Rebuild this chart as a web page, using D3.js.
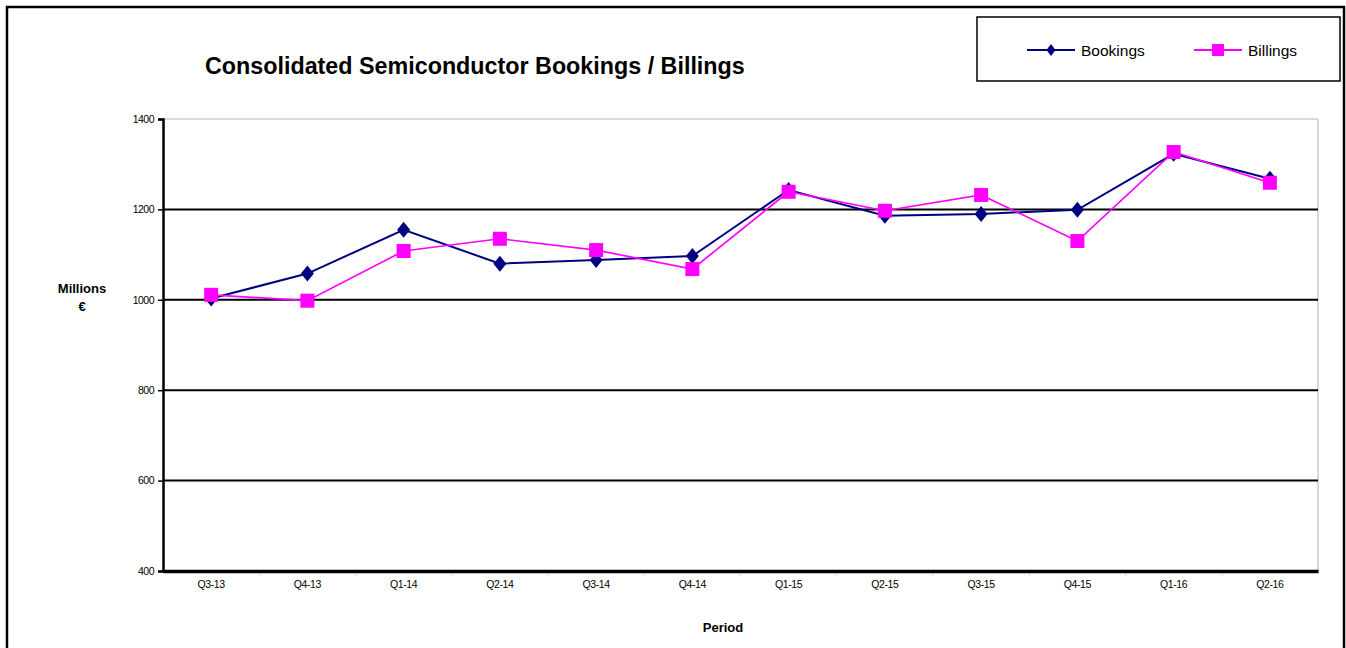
<!DOCTYPE html>
<html>
<head>
<meta charset="utf-8">
<script src="https://cdn.jsdelivr.net/npm/d3@7"></script>
<style>
  body { margin: 0; background: #fff; }
  text { font-family: "Liberation Sans", Arial, sans-serif; }
</style>
</head>
<body>
<svg width="1346" height="648"></svg>
<script>
const periods = ["Q3-13", "Q4-13", "Q1-14", "Q2-14", "Q3-14", "Q4-14",
                 "Q1-15", "Q2-15", "Q3-15", "Q4-15", "Q1-16", "Q2-16"];
const bookings = [1003, 1058, 1155, 1080, 1088, 1097, 1243, 1186, 1190, 1199, 1323, 1268];
const billings = [1011, 998, 1108, 1135, 1110, 1068, 1239, 1197, 1232, 1130, 1327, 1259];
const yTicks = [400, 600, 800, 1000, 1200, 1400];

const svg = d3.select("svg");

// Outer frame
svg.append("rect")
    .attr("x", 7).attr("y", 7)
    .attr("width", 1337).attr("height", 660)
    .attr("fill", "none").attr("stroke", "#000").attr("stroke-width", 2.5);

const plotLeft = 163, plotRight = 1318, plotTop = 119, plotBottom = 571;

const x = d3.scaleBand().domain(periods).range([plotLeft, plotRight]);
const y = d3.scaleLinear().domain([400, 1400]).range([plotBottom, plotTop]);

// Plot area edges (light gray top/right)
svg.append("line")
    .attr("x1", plotLeft).attr("x2", plotRight).attr("y1", y(1400)).attr("y2", y(1400))
    .attr("stroke", "#d9d9d9").attr("stroke-width", 2);
svg.append("line")
    .attr("x1", plotRight).attr("x2", plotRight).attr("y1", plotTop).attr("y2", plotBottom)
    .attr("stroke", "#d9d9d9").attr("stroke-width", 2);

// Gridlines
svg.selectAll(".grid")
    .data(yTicks.filter(d => d > 400 && d < 1400))
    .enter().append("line")
    .attr("x1", plotLeft).attr("x2", plotRight)
    .attr("y1", d => y(d)).attr("y2", d => y(d))
    .attr("stroke", "#000").attr("stroke-width", 2);

// Y axis
const yAxis = svg.append("g")
    .attr("transform", `translate(${plotLeft},0)`)
    .call(d3.axisLeft(y).tickValues(yTicks).tickFormat(d3.format("d"))
        .tickSize(5).tickPadding(4));
yAxis.select(".domain").attr("stroke-width", 2.5);
yAxis.selectAll(".tick line").attr("stroke-width", 1.5);
yAxis.selectAll("text")
    .style("font-family", "Liberation Sans, Arial, sans-serif")
    .style("font-size", "10.5px").attr("fill", "#000")
    .attr("letter-spacing", "-0.5");

// X axis
const xAxis = svg.append("g")
    .attr("transform", `translate(0,${plotBottom})`)
    .call(d3.axisBottom(x).tickSize(0).tickPadding(10));
xAxis.select(".domain").attr("stroke-width", 3.5);
xAxis.selectAll("text")
    .style("font-family", "Liberation Sans, Arial, sans-serif")
    .style("font-size", "10.5px").attr("fill", "#000")
    .attr("letter-spacing", "-0.4");

// small gray ticks at category boundaries
svg.selectAll(".xb")
    .data(periods.slice(1))
    .enter().append("line")
    .attr("x1", d => x(d)).attr("x2", d => x(d))
    .attr("y1", plotBottom + 2).attr("y2", plotBottom + 4)
    .attr("stroke", "#bbb").attr("stroke-width", 1);

const line = d3.line()
    .x((d, i) => x(periods[i]) + x.bandwidth() / 2)
    .y(d => y(d));

// Bookings
svg.append("path").datum(bookings)
    .attr("d", line).attr("fill", "none")
    .attr("stroke", "#000080").attr("stroke-width", 2);
svg.selectAll(".bk")
    .data(bookings)
    .enter().append("path")
    .attr("transform", (d, i) => `translate(${x(periods[i]) + x.bandwidth() / 2},${y(d)})`)
    .attr("d", "M0,-8L6.5,0L0,8L-6.5,0Z")
    .attr("fill", "#000080");

// Billings
svg.append("path").datum(billings)
    .attr("d", line).attr("fill", "none")
    .attr("stroke", "#ff00ff").attr("stroke-width", 1.7);
svg.selectAll(".bl")
    .data(billings)
    .enter().append("rect")
    .attr("x", (d, i) => x(periods[i]) + x.bandwidth() / 2 - 7)
    .attr("y", d => y(d) - 7)
    .attr("width", 14).attr("height", 14)
    .attr("fill", "#ff00ff");

// Title
svg.append("text")
    .attr("x", 205).attr("y", 74)
    .attr("font-size", "23.3px").attr("font-weight", "bold")
    .text("Consolidated Semiconductor Bookings / Billings");

// Axis titles
svg.append("text")
    .attr("x", 82).attr("y", 293)
    .attr("text-anchor", "middle")
    .attr("font-size", "13px").attr("font-weight", "bold")
    .text("Millions");
svg.append("text")
    .attr("x", 82).attr("y", 311)
    .attr("text-anchor", "middle")
    .attr("font-size", "13px").attr("font-weight", "bold")
    .text("€");
svg.append("text")
    .attr("x", 723).attr("y", 632)
    .attr("text-anchor", "middle")
    .attr("font-size", "13px").attr("font-weight", "bold")
    .text("Period");

// Legend
const legend = svg.append("g");
legend.append("rect")
    .attr("x", 977).attr("y", 17)
    .attr("width", 363).attr("height", 64)
    .attr("fill", "#fff").attr("stroke", "#000").attr("stroke-width", 1.5);

const lgY = 50;
legend.append("line")
    .attr("x1", 1027).attr("x2", 1075).attr("y1", lgY).attr("y2", lgY)
    .attr("stroke", "#000080").attr("stroke-width", 2);
legend.append("path")
    .attr("transform", `translate(1051,${lgY})`)
    .attr("d", "M0,-6L4.5,0L0,6L-4.5,0Z")
    .attr("fill", "#000080");
legend.append("text")
    .attr("x", 1081).attr("y", lgY + 6)
    .attr("font-size", "15.5px")
    .text("Bookings");

legend.append("line")
    .attr("x1", 1194).attr("x2", 1242).attr("y1", lgY).attr("y2", lgY)
    .attr("stroke", "#ff00ff").attr("stroke-width", 2);
legend.append("rect")
    .attr("x", 1212).attr("y", lgY - 6)
    .attr("width", 12).attr("height", 12)
    .attr("fill", "#ff00ff");
legend.append("text")
    .attr("x", 1248).attr("y", lgY + 6)
    .attr("font-size", "15.5px")
    .text("Billings");
</script>
</body>
</html>
